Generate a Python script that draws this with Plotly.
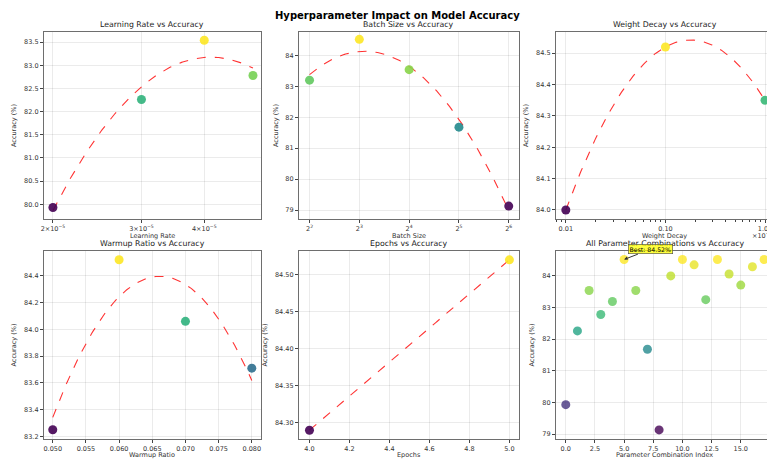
import numpy as np
import plotly.graph_objects as go

# ---------------- data ----------------
lr_values = [2e-5, 3e-5, 4e-5, 5e-5]
lr_acc = [79.93, 82.26, 83.54, 82.78]

bs_values = [4, 8, 16, 32, 64]
bs_acc = [83.20, 84.52, 83.54, 81.68, 79.13]

wd_values = [0.001, 0.01, 0.1]
wd_acc = [84.00, 84.52, 84.35]

wr_values = [0.05, 0.06, 0.07, 0.08]
wr_acc = [83.25, 84.52, 84.06, 83.71]

ep_values = [4, 5]
ep_acc = [84.29, 84.52]

combo_index = list(range(18))
combo_acc = [79.93, 82.26, 83.54, 82.78, 83.19, 84.52, 83.54, 81.68, 79.13,
             84.00, 84.52, 84.35, 83.25, 84.52, 84.06, 83.71, 84.29, 84.52]

lr_ticks = [2e-5, 3e-5, 4e-5]
lr_ticktext = ["2\u00d710<sup>\u22125</sup>", "3\u00d710<sup>\u22125</sup>", "4\u00d710<sup>\u22125</sup>"]
bs_ticktext = ["2<sup>2</sup>", "2<sup>3</sup>", "2<sup>4</sup>", "2<sup>5</sup>", "2<sup>6</sup>"]
wd_ticktext = ["0.01", "0.10", "1.00"]

titles = ["Learning Rate vs Accuracy", "Batch Size vs Accuracy", "Weight Decay vs Accuracy",
          "Warmup Ratio vs Accuracy", "Epochs vs Accuracy", "All Parameter Combinations vs Accuracy"]
xlabels = ["Learning Rate", "Batch Size", "Weight Decay", "Warmup Ratio", "Epochs",
           "Parameter Combination Index"]

# ---------------- layout geometry (page pixels; page has an 8px body margin) ----------------
OFF = 8
W, H = 775 - OFF, 462 - OFF
cols = [(41, 259), (297, 518), (555, 774)]
rows = [(32, 220), (252, 441)]
xtitle_y = [237, 456.5]

def px(p):
    return min(max((p - OFF) / W, 0), 1)

def py(p):
    return min(max(1 - (p - OFF) / H, 0), 1)

FONT = "DejaVu Sans"
TICK = 6.5
fig = go.Figure()

def fit_curve(x, y, deg, log=False):
    x = np.asarray(x, float)
    t = np.log10(x) if log else x
    p = np.polyfit(t, y, deg)
    tt = np.linspace(t.min(), t.max(), 200)
    xx = 10 ** tt if log else tt
    return xx, np.polyval(p, tt)

panels = [
    (lr_values, lr_acc, 2, True),
    (bs_values, bs_acc, 2, True),
    (wd_values, wd_acc, 2, True),
    (wr_values, wr_acc, 2, False),
    (ep_values, ep_acc, 1, False),
]

for i, (xv, yv, deg, lg) in enumerate(panels):
    ax = "" if i == 0 else str(i + 1)
    xx, yy = fit_curve(xv, yv, deg, lg)
    fig.add_trace(go.Scatter(x=xx, y=yy, mode="lines", xaxis="x" + ax, yaxis="y" + ax,
                             line=dict(color="rgba(255,0,0,0.8)", width=1.1, dash="dash"),
                             showlegend=False, hoverinfo="skip"))
    fig.add_trace(go.Scatter(x=xv, y=yv, mode="markers", xaxis="x" + ax, yaxis="y" + ax,
                             marker=dict(size=9, color=yv, colorscale="Viridis",
                                         cmin=min(yv), cmax=max(yv), opacity=0.9,
                                         line=dict(width=0)),
                             showlegend=False))

fig.add_trace(go.Scatter(x=combo_index, y=combo_acc, mode="markers", xaxis="x6", yaxis="y6",
                         marker=dict(size=9, color=combo_acc, colorscale="Viridis",
                                     cmin=min(combo_acc), cmax=max(combo_acc), opacity=0.8,
                                     line=dict(width=0)),
                         showlegend=False))

axis_common = dict(showline=True, mirror=True, linecolor="#6e6e6e", linewidth=1,
                   ticks="outside", ticklen=3, tickcolor="#444",
                   showgrid=True, gridcolor="rgba(0,0,0,0.08)", gridwidth=1,
                   zeroline=False, tickfont=dict(family=FONT, size=TICK, color="#333"))

xaxes = [
    dict(type="log", range=[-4.717, -4.285], tickvals=lr_ticks, ticktext=lr_ticktext),
    dict(type="log", range=[1.786 * np.log10(2), 6.206 * np.log10(2)], tickvals=bs_values,
         ticktext=bs_ticktext),
    dict(type="log", range=[-3.1, -0.91], tickvals=wd_values, ticktext=wd_ticktext,
         minor=dict(ticks="outside", ticklen=2, tickcolor="#444", showgrid=False,
                    tickvals=[k * 10.0 ** e for e in (-4, -3, -2, -1) for k in range(2, 10)])),
    dict(range=[0.04866, 0.08139], tickvals=[0.05, 0.055, 0.06, 0.065, 0.07, 0.075, 0.08],
         tickformat=".3f"),
    dict(range=[3.947, 5.048], dtick=0.2, tickformat=".1f"),
    dict(range=[-0.85, 17.85], dtick=2.5, tickformat=".1f"),
]
yaxes = [
    dict(range=[79.68, 83.72], dtick=0.5, tickformat=".1f"),
    dict(range=[78.71, 84.76], dtick=1),
    dict(range=[83.971, 84.568], dtick=0.1, tickformat=".1f"),
    dict(range=[83.18, 84.586], dtick=0.2, tickformat=".1f"),
    dict(range=[84.278, 84.532], dtick=0.05, tickformat=".2f"),
    dict(range=[78.84, 84.79], dtick=1),
]

layout = dict(width=W, height=H, margin=dict(l=0, r=0, t=0, b=0),
              paper_bgcolor="white", plot_bgcolor="white",
              font=dict(family=FONT, color="#222"))
annotations = []
for i in range(6):
    r, c = divmod(i, 3)
    x0, x1 = cols[c]
    y0, y1 = rows[r]
    ax = "" if i == 0 else str(i + 1)
    xd = dict(axis_common, **xaxes[i])
    xd.update(domain=[px(x0), px(x1)], anchor="y" + ax)
    yd = dict(axis_common, **yaxes[i])
    yd.update(domain=[py(y1), py(y0)], anchor="x" + ax,
              title=dict(text="Accuracy (%)", font=dict(family=FONT, size=TICK, color="#333"),
                         standoff=6))
    layout["xaxis" + ax] = xd
    layout["yaxis" + ax] = yd
    annotations.append(dict(text=titles[i], x=(px(x0) + px(x1)) / 2, y=py(y0 - 1),
                            xref="paper", yref="paper", xanchor="center", yanchor="bottom",
                            showarrow=False, font=dict(family=FONT, size=7.8, color="#222")))
    annotations.append(dict(text=xlabels[i], x=(px(x0) + px(x1)) / 2, y=py(xtitle_y[r]),
                            xref="paper", yref="paper", xanchor="center", yanchor="middle",
                            showarrow=False, font=dict(family=FONT, size=TICK, color="#333")))

annotations.append(dict(text="<b>Hyperparameter Impact on Model Accuracy</b>", x=px(396), y=py(16),
                        xref="paper", yref="paper", xanchor="center", yanchor="middle",
                        showarrow=False, font=dict(family=FONT, size=10, color="black")))
annotations.append(dict(text="\u00d710<sup>\u22121</sup>", x=px(776), y=py(237),
                        xref="paper", yref="paper", xanchor="right", yanchor="middle",
                        showarrow=False, font=dict(family=FONT, size=TICK, color="#333")))

best_i = int(np.argmax(combo_acc))
annotations.append(dict(text="Best: %.2f%%" % combo_acc[best_i], x=combo_index[best_i],
                        y=combo_acc[best_i], xref="x6", yref="y6", ax=26, ay=-10,
                        showarrow=True, arrowhead=2, arrowsize=0.7, arrowwidth=1, arrowcolor="#333",
                        bgcolor="rgba(255,255,0,0.75)", bordercolor="#444", borderwidth=0.6,
                        borderpad=1, font=dict(family=FONT, size=6.2, color="black")))
layout["annotations"] = annotations
fig.update_layout(**layout)
fig.write_html("out.html")
